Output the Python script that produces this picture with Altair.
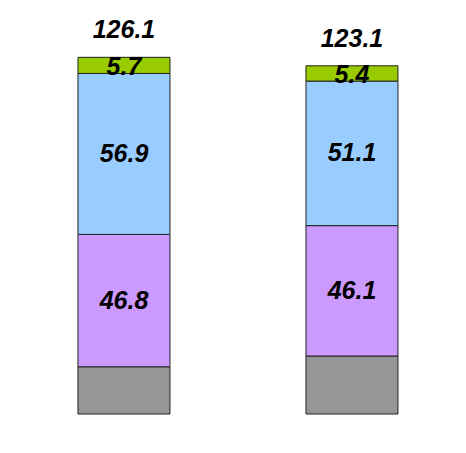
import altair as alt
import pandas as pd

categories = ["FY2012/3", "FY2013/3"]
series = ["Other", "Purple", "Blue", "Green"]
other_vals = [16.7, 20.5]
purple_vals = [46.8, 46.1]
blue_vals = [56.9, 51.1]
green_vals = [5.7, 5.4]
totals = [126.1, 123.1]
colors = ["#969696", "#CC99FF", "#99CCFF", "#99CC00"]

rows = []
for i, cat in enumerate(categories):
    vals = [other_vals[i], purple_vals[i], blue_vals[i], green_vals[i]]
    base = 0.0
    for k, (s, v) in enumerate(zip(series, vals)):
        rows.append({"cat": cat, "series": s, "order": k, "v": v,
                     "y0": base, "y1": base + v, "mid": base + v / 2,
                     "label": f"{v:.1f}" if s != "Other" else ""})
        base += v
df = pd.DataFrame(rows)
tot = pd.DataFrame({"cat": categories, "total": totals,
                    "label": [f"{t:.1f}" for t in totals]})

H = 396
xscale = alt.Scale(domain=categories, paddingInner=0.5965, paddingOuter=0.2807, align=0.531)
yscale = alt.Scale(domain=[0, 140])
FONT = "Liberation Sans"

bars = alt.Chart(df).mark_bar(stroke="#222222", strokeWidth=1).encode(
    x=alt.X("cat:N", scale=xscale, sort=categories, title=None,
            axis=alt.Axis(orient="bottom", ticks=False, domain=True, domainColor="#555555",
                          labelAngle=0, labelFont=FONT, labelFontSize=18,
                          labelFontWeight="bold", labelColor="#000000", labelPadding=22)),
    y=alt.Y("y0:Q", scale=yscale, axis=None),
    y2="y1:Q",
    color=alt.Color("series:N", scale=alt.Scale(domain=series, range=colors), legend=None),
)

seg_text = alt.Chart(df[df["series"].isin(["Purple", "Blue"])]).mark_text(
    font=FONT, fontSize=25, fontWeight="bold", fontStyle="italic", color="#000000",
    baseline="middle", align="center"
).encode(
    x=alt.X("cat:N", scale=xscale, sort=categories, axis=None),
    y=alt.Y("mid:Q", scale=yscale, axis=None),
    text="label:N",
)

green_text = alt.Chart(df[df["series"] == "Green"]).mark_text(
    font=FONT, fontSize=25, fontWeight="bold", fontStyle="italic", color="#000000",
    baseline="middle", align="center", dy=2
).encode(
    x=alt.X("cat:N", scale=xscale, sort=categories, axis=None),
    y=alt.Y("mid:Q", scale=yscale, axis=None),
    text="label:N",
)

tot_text = alt.Chart(tot).mark_text(
    font=FONT, fontSize=25, fontWeight="bold", fontStyle="italic", color="#000000",
    baseline="middle", align="center", dy=-27
).encode(
    x=alt.X("cat:N", scale=xscale, sort=categories, axis=None),
    y=alt.Y("total:Q", scale=yscale, axis=None),
    text="label:N",
)

chart = alt.layer(bars, seg_text, green_text, tot_text).properties(
    width=448, height=H,
    padding={"left": 2, "top": 10, "right": 0, "bottom": 0},
    background="#ffffff",
).configure_view(stroke=None)

chart.save("out.html", embed_options={"renderer": "svg", "actions": False})
